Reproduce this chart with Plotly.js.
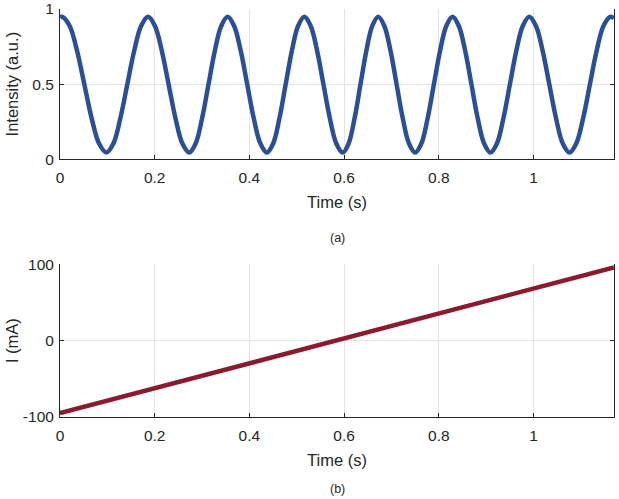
<!DOCTYPE html>
<html>
<head>
<meta charset="utf-8">
<script src="https://cdn.plot.ly/plotly-3.0.1.min.js"></script>
<style>html,body{margin:0;padding:0;background:#fff;}#chart{width:619px;height:499px;}</style>
</head>
<body>
<div id="chart"></div>
<script>
// (a) Intensity vs time
var timeA = [0, 0.005,
  0.0205, 0.036, 0.0515, 0.067, 0.0825, 0.098,
  0.1127, 0.1273, 0.142, 0.1567, 0.1713, 0.186,
  0.2005, 0.215, 0.2295, 0.244, 0.2585, 0.273,
  0.2865, 0.300, 0.3135, 0.327, 0.3405, 0.354,
  0.3678, 0.3817, 0.3955, 0.4093, 0.4232, 0.437,
  0.4502, 0.4633, 0.4765, 0.4897, 0.5028, 0.516,
  0.5295, 0.543, 0.5565, 0.570, 0.5835, 0.597,
  0.6095, 0.622, 0.6345, 0.647, 0.6595, 0.672,
  0.685, 0.698, 0.711, 0.724, 0.737, 0.750,
  0.7632, 0.7763, 0.7895, 0.8027, 0.8158, 0.829,
  0.8423, 0.8557, 0.869, 0.8823, 0.8957, 0.909,
  0.9227, 0.9363, 0.950, 0.9637, 0.9773, 0.991,
  1.0052, 1.0193, 1.0335, 1.0477, 1.0618, 1.076,
  1.0903, 1.1047, 1.119, 1.1333, 1.1477, 1.162,
  1.17];
var intensity = [0.945, 0.948,
  0.887, 0.722, 0.4965, 0.271, 0.105, 0.045,
  0.105, 0.271, 0.4965, 0.722, 0.887, 0.948,
  0.887, 0.722, 0.4965, 0.271, 0.105, 0.045,
  0.105, 0.271, 0.4965, 0.722, 0.887, 0.948,
  0.887, 0.722, 0.4965, 0.271, 0.105, 0.045,
  0.105, 0.271, 0.4965, 0.722, 0.887, 0.948,
  0.887, 0.722, 0.4965, 0.271, 0.105, 0.045,
  0.105, 0.271, 0.4965, 0.722, 0.887, 0.948,
  0.887, 0.722, 0.4965, 0.271, 0.105, 0.045,
  0.105, 0.271, 0.4965, 0.722, 0.887, 0.948,
  0.887, 0.722, 0.4965, 0.271, 0.105, 0.045,
  0.105, 0.271, 0.4965, 0.722, 0.887, 0.948,
  0.887, 0.722, 0.4965, 0.271, 0.105, 0.045,
  0.105, 0.271, 0.4965, 0.722, 0.887, 0.948,
  0.938];
// (b) Current vs time
var timeB = [0, 0.2, 0.4, 0.6, 0.8, 1.0, 1.17];
var current = [-95, -62.4, -29.8, 2.9, 35.6, 68.2, 96];
var xTicks = [0, 0.2, 0.4, 0.6, 0.8, 1];
var xTickText = ['0', '0.2', '0.4', '0.6', '0.8', '1'];
var yTicksA = [0, 0.5, 1];
var yTickTextA = ['0', '0.5', '1'];
var yTicksB = [-100, 0, 100];
var yTickTextB = ['-100', '0', '100'];

var FONT = 'Liberation Sans, Arial, sans-serif';
var axCol = '#262626';
var gridCol = '#e3e3e3';
var TICK = 15.5, LAB = 16.5;
var T = 9, B = 82, H = 499 - T - B;
function py(px) { return (499 - B - px) / H; }

function xax(anchor) {
  return {
    anchor: anchor, range: [0, 1.17], tickvals: xTicks, ticktext: xTickText,
    showgrid: true, gridcolor: gridCol, gridwidth: 1, zeroline: false,
    showline: true, linecolor: axCol, linewidth: 1, mirror: false,
    ticks: 'inside', ticklen: 4, tickcolor: axCol, ticklabelstandoff: 4,
    tickfont: {family: FONT, size: TICK, color: axCol},
    title: {text: 'Time (s)', font: {family: FONT, size: LAB, color: axCol}, standoff: 11}
  };
}
function yax(anchor, dom, rng, tv, tt, title, so) {
  return {
    anchor: anchor, domain: dom, range: rng, tickvals: tv, ticktext: tt,
    showgrid: true, gridcolor: gridCol, gridwidth: 1, zeroline: false,
    showline: true, linecolor: axCol, linewidth: 1, mirror: 'ticks',
    ticks: 'inside', ticklen: 4, tickcolor: axCol, ticklabelstandoff: 2,
    ticklabeloverflow: 'allow',
    tickfont: {family: FONT, size: TICK, color: axCol},
    title: {text: title, font: {family: FONT, size: LAB, color: axCol}, standoff: so}
  };
}

var data = [
  {x: timeA, y: intensity, type: 'scatter', mode: 'lines', xaxis: 'x', yaxis: 'y',
   line: {color: '#2b4e98', width: 4.5, shape: 'spline', smoothing: 1}},
  {x: timeB, y: current, type: 'scatter', mode: 'lines', xaxis: 'x2', yaxis: 'y2',
   line: {color: '#8c1a2f', width: 4.5}}
];

var layout = {
  width: 619, height: 499,
  margin: {l: 60, r: 5, t: T, b: B},
  paper_bgcolor: '#fff', plot_bgcolor: '#fff',
  showlegend: false,
  xaxis: xax('y'),
  yaxis: yax('x', [py(159.3), 1], [0, 1], yTicksA, yTickTextA, 'Intensity (a.u.)', 9),
  xaxis2: xax('y2'),
  yaxis2: yax('x2', [0, py(264.3)], [-100, 100], yTicksB, yTickTextB, 'I (mA)', 0),
  annotations: [
    {text: '(a)', xref: 'paper', yref: 'paper', x: 0.5, y: py(238), yanchor: 'middle',
     showarrow: false, font: {family: FONT, size: 12.5, color: axCol}},
    {text: '(b)', xref: 'paper', yref: 'paper', x: 0.5, y: py(489), yanchor: 'middle',
     showarrow: false, font: {family: FONT, size: 12.5, color: axCol}}
  ]
};

Plotly.newPlot('chart', data, layout, {displayModeBar: false, staticPlot: true});
</script>
</body>
</html>
